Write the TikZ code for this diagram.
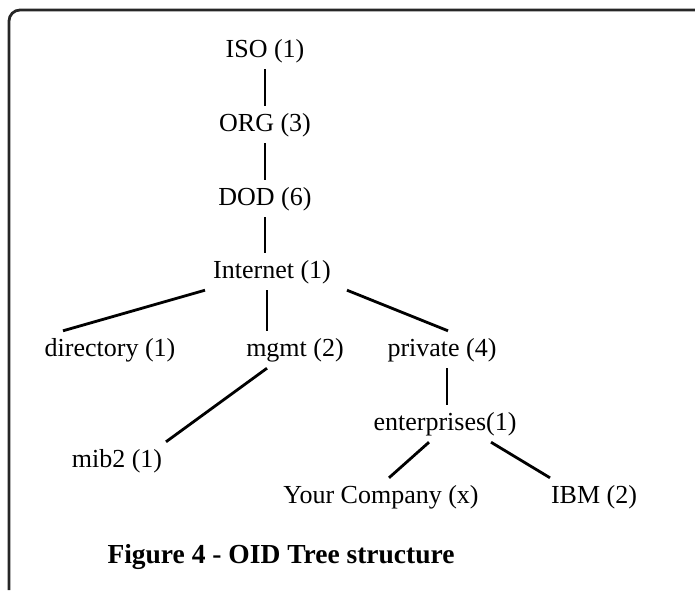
\documentclass[tikz,border=0pt]{standalone}
\usepackage{fontspec}
\setmainfont{Liberation Serif}
\begin{document}
\begin{tikzpicture}[x=1pt,y=-1pt,
  oid/.style={inner sep=0pt,text height=25pt,text depth=12pt,anchor=base,font=\fontsize{26}{30}\selectfont},
  edge/.style={line width=2.8pt}]
\useasboundingbox (0,0) rectangle (695,590);
\draw[line width=2.8pt,black!85,rounded corners=11pt] (9,590) -- (9,10) -- (695,10);
% tree
\node[oid] (iso) at (265,57) {ISO (1)};
\node[oid] (org) at (265,131) {ORG (3)};
\node[oid] (dod) at (265,205) {DOD (6)};
\node[oid] (inet) at (272,278) {Internet (1)};
\node[oid] (dir) at (110,356) {directory (1)};
\node[oid] (mgmt) at (295,356) {mgmt (2)};
\node[oid] (priv) at (442,356) {private (4)};
\node[oid] (ent) at (445,430) {enterprises(1)};
\node[oid] (mib) at (117,467) {mib2 (1)};
\node[oid] (you) at (381,503) {Your Company (x)};
\node[oid] (ibm) at (594,503) {IBM (2)};
\draw[edge] (iso) -- (org);
\draw[edge] (org) -- (dod);
\draw[edge] (dod) -- ([xshift=-7pt]inet.north);
\draw[edge] ([xshift=-67pt]inet.south) -- ([xshift=-47pt]dir.north);
\draw[edge] ([xshift=-5pt]inet.south) -- ([xshift=-28pt]mgmt.north);
\draw[edge] ([xshift=75pt]inet.south) -- ([xshift=6pt]priv.north);
\draw[edge] ([xshift=5pt]priv.south) -- ([xshift=2pt]ent.north);
\draw[edge] ([xshift=-28pt]mgmt.south) -- ([xshift=49pt]mib.north);
\draw[edge] ([xshift=-16pt]ent.south) -- ([xshift=8pt]you.north);
\draw[edge] ([xshift=46pt]ent.south) -- ([xshift=-44pt]ibm.north);
\node[anchor=base,inner sep=0pt,font=\fontsize{27.5}{32}\selectfont\bfseries] (cap) at (281,563) {Figure 4 - OID Tree structure};
\end{tikzpicture}
\end{document}
